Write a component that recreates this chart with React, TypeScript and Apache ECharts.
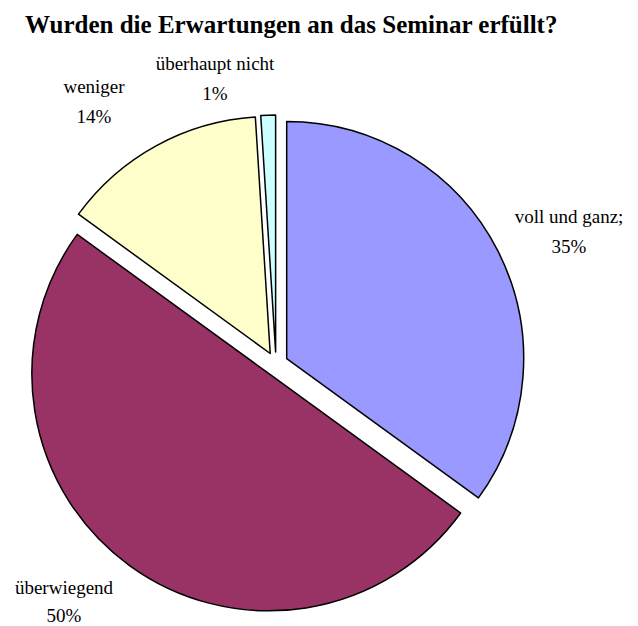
import React, { useEffect, useRef } from "react";
import * as echarts from "echarts";

const categories = ["voll und ganz;", "überwiegend", "weniger", "überhaupt nicht"];
const values = [35, 50, 14, 1];
const colors = ["#9999FF", "#993366", "#FFFFCC", "#CCFFFF"];
const titleText = "Wurden die Erwartungen an das Seminar erfüllt?";

// label block centres (page pixels) for each slice label
const labelPos = [
  [569, 231],
  [64, 601],
  [94, 101],
  [215, 78],
];

export default function App() {
  const ref = useRef<HTMLDivElement>(null);
  useEffect(() => {
    const chart = echarts.init(ref.current!, null, { renderer: "svg" });
    chart.setOption({
      animation: false,
      backgroundColor: "#ffffff",
      title: {
        text: titleText,
        left: 20,
        top: 7,
        textStyle: {
          fontFamily: "Liberation Serif",
          fontWeight: "bold",
          fontSize: 25,
          color: "#000",
        },
      },
      graphic: categories.map((c, i) => ({
        type: "text",
        x: labelPos[i][0],
        y: labelPos[i][1],
        silent: true,
        style: {
          text: `${c}\n${values[i]}%`,
          fontFamily: "Liberation Serif",
          fontSize: 19,
          lineHeight: i === 1 ? 28 : 30,
          fill: "#000",
          align: "center",
          verticalAlign: "middle",
        },
      })),
      series: [
        {
          type: "pie",
          center: [276, 364],
          radius: 237,
          startAngle: 90,
          clockwise: true,
          selectedMode: "multiple",
          selectedOffset: 12,
          emphasis: { disabled: true },
          itemStyle: { borderColor: "#000", borderWidth: 1.5 },
          labelLine: { show: false },
          label: { show: false },
          data: categories.map((c, i) => ({
            name: c,
            value: values[i],
            selected: true,
            itemStyle: { color: colors[i] },
          })),
        },
      ],
    });
    return () => chart.dispose();
  }, []);
  return (
    <div
      ref={ref}
      style={{ position: "absolute", left: 0, top: 0, width: 638, height: 626 }}
    />
  );
}
